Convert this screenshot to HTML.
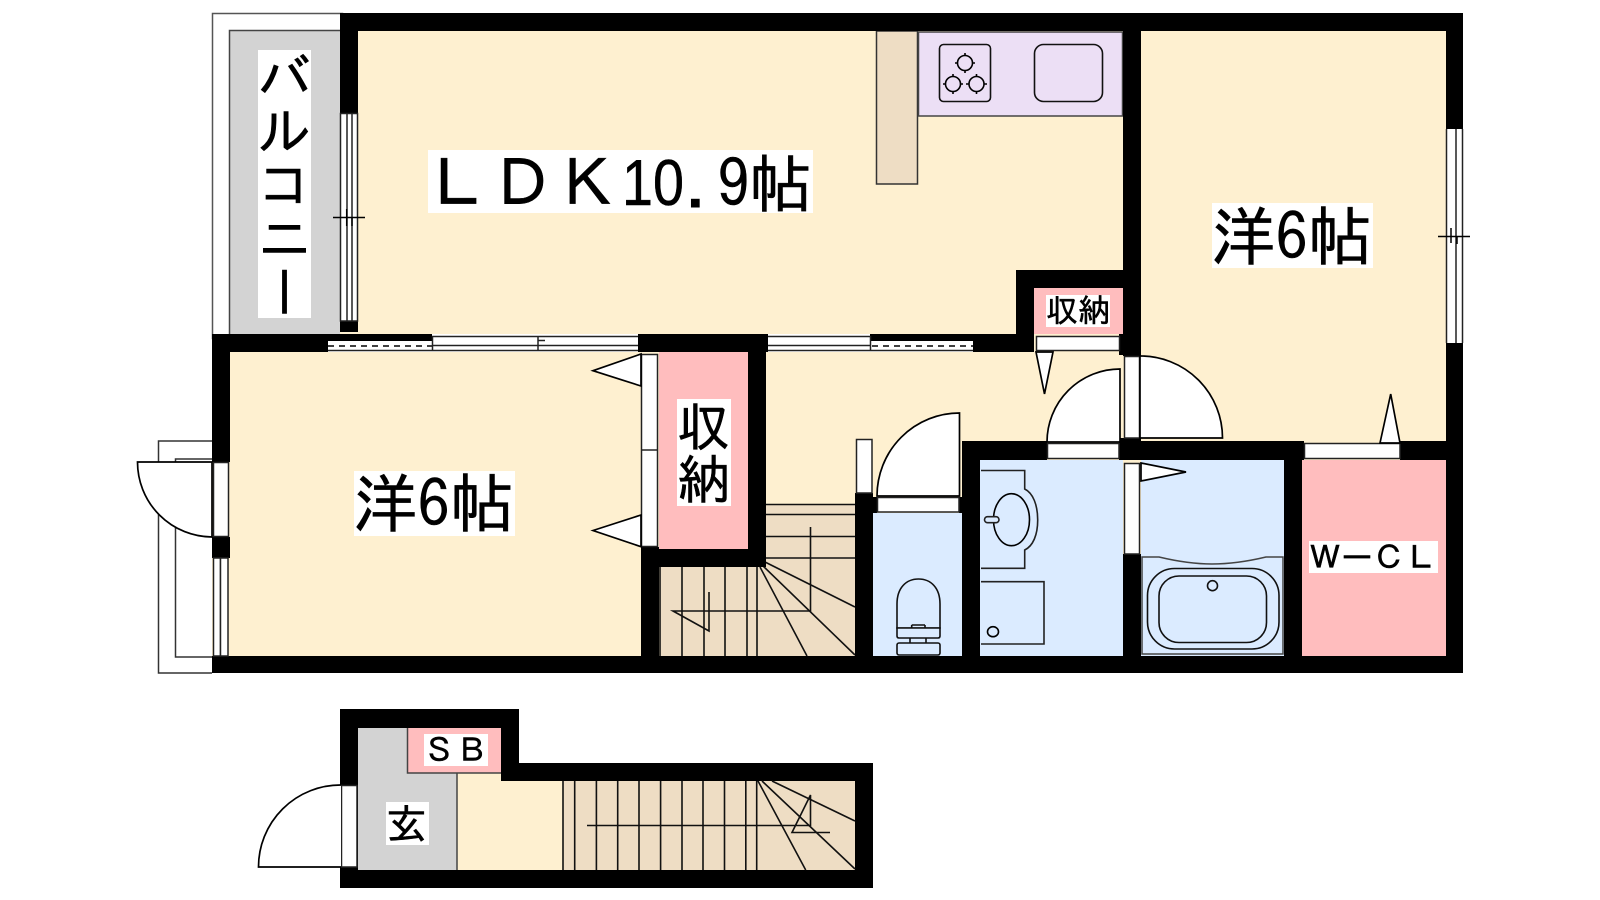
<!DOCTYPE html>
<html lang="ja"><head><meta charset="utf-8"><title>間取り図</title>
<style>html,body{margin:0;padding:0;background:#fff;width:1600px;height:900px;overflow:hidden}svg{display:block}text{font-family:"IPAGothic","Noto Sans CJK JP",sans-serif;fill:#000;stroke:#000;stroke-width:.5}</style></head>
<body>
<svg width="1600" height="900" viewBox="0 0 1600 900" xmlns="http://www.w3.org/2000/svg">
<!-- balcony -->
<rect x="212.5" y="13.5" width="130" height="325" fill="#fff" stroke="#555" stroke-width="1.5"/>
<rect x="229.5" y="30.5" width="112" height="306" fill="#d3d3d3" stroke="#444" stroke-width="1.5"/>
<!-- entry porch -->
<path d="M212 441H158.5V673H212" fill="#fff" stroke="#333" stroke-width="1.5"/>
<path d="M212 459H175.5V657H212" fill="#fff" stroke="#333" stroke-width="1.5"/>
<!-- room fills -->
<rect x="340" y="13" width="1123" height="660" fill="#fef0d0"/>
<rect x="212" y="334" width="450" height="339" fill="#fef0d0"/>
<!-- kitchen -->
<rect x="876.5" y="31" width="41" height="153" fill="#eeddc4" stroke="#333" stroke-width="1.5"/>
<rect x="918.5" y="32" width="204" height="84" fill="#ecdff5" stroke="#444" stroke-width="1.5"/>
<rect x="939.5" y="44.5" width="51" height="57" rx="4" fill="none" stroke="#111" stroke-width="1.6"/>
<rect x="1034.5" y="44.5" width="68" height="57" rx="9" fill="none" stroke="#111" stroke-width="1.6"/>
<g fill="none" stroke="#000" stroke-width="1.6">
<circle cx="965" cy="63" r="7.5"/><circle cx="953" cy="84" r="7.5"/><circle cx="976.5" cy="84" r="7.5"/>
<path d="M965 53v3M965 70v3M955 63h3M972 63h3M953 74v3M953 91v3M943 84h3M960 84h3M976.5 74v3M976.5 91v3M966 84h3M984 84h3"/>
</g>
<!-- stairs upper -->
<path d="M660 567H766V504H855V656H660Z" fill="#eeddc4"/>
<g fill="none" stroke="#111" stroke-width="1.6">
<path d="M766 504.500H855M766 514.500H855M766 536.500H855M766 558H855"/>
<path d="M660 567V656M682 567V656M704 567V656M725 567V656M747 567V656M757 567V656"/>
<path d="M765 562L855 607M762 565L855 655M760 567L807 656"/>
<path d="M810.500 527V611H673L709 631V592"/>
</g>
<!-- closets and wet areas -->
<rect x="659" y="352" width="89" height="197" fill="#ffbdbe"/>
<rect x="1034" y="288" width="89" height="46" fill="#ffbdbe"/>
<rect x="873" y="513" width="89" height="143" fill="#dbebff"/>
<rect x="980" y="460" width="143" height="196" fill="#dbebff"/>
<rect x="1141" y="460" width="143" height="196" fill="#dbebff"/>
<rect x="1302" y="460" width="144" height="196" fill="#ffbdbe"/>
<!-- walls -->
<g fill="#000">
<rect x="340" y="13" width="1123" height="18"/>
<rect x="340" y="13" width="18" height="100"/>
<rect x="340" y="321" width="18" height="11"/>
<rect x="1446" y="13" width="17" height="116"/>
<rect x="1446" y="343" width="17" height="330"/>
<rect x="1123" y="13" width="18" height="343"/>
<rect x="212" y="334" width="116" height="18"/>
<rect x="212" y="334" width="18" height="128"/>
<rect x="212" y="537" width="18" height="21"/>
<rect x="212" y="656" width="1251" height="17"/>
<rect x="638" y="334" width="130" height="18"/>
<rect x="748" y="334" width="18" height="233"/>
<rect x="641" y="549" width="125" height="18"/>
<rect x="641" y="547" width="18" height="109"/>
<rect x="973" y="334" width="61" height="18"/>
<rect x="1016" y="270" width="107" height="18"/>
<rect x="1016" y="270" width="18" height="82"/>
<rect x="1119" y="334" width="22" height="21"/>
<rect x="855" y="493" width="18" height="163"/>
<rect x="873" y="497" width="4" height="16"/>
<rect x="959" y="497" width="3" height="16"/>
<rect x="962" y="441" width="18" height="215"/>
<rect x="962" y="441" width="85" height="19"/>
<rect x="1119" y="438" width="22" height="22"/>
<rect x="1119" y="441" width="185" height="19"/>
<rect x="1400" y="441" width="63" height="19"/>
<rect x="1284" y="441" width="18" height="215"/>
<rect x="1123" y="554" width="18" height="102"/>
</g>
<!-- LDK / balcony window -->
<g stroke="#222" stroke-width="1.5" fill="none">
<rect x="340.500" y="113.500" width="17" height="207.500" fill="#fff"/>
<path d="M347 113V321M352 113V321"/>
<path d="M333 217.500H365M346.700 209V226M352 217V226" stroke="#000"/>
</g>
<!-- right window -->
<g stroke="#222" stroke-width="1.5" fill="none">
<rect x="1446.500" y="129" width="17" height="214" fill="#fff" stroke="none"/>
<path d="M1446.500 129V343M1456 129V343M1462.500 129V343"/>
<path d="M1438 236.500H1470M1451 228V243M1457 236V244" stroke="#000"/>
</g>
<!-- mid-wall sliding windows -->
<g stroke="#222" stroke-width="1.5">
<rect x="328" y="334" width="104" height="18" fill="#000" stroke="none"/>
<rect x="328" y="341" width="104" height="10" fill="#fff" stroke="none"/>
<path d="M328 346H432" stroke="#000" stroke-width="1.500" stroke-dasharray="6 5"/>
<rect x="328" y="351" width="104" height="1" fill="#fff" stroke="none"/>
<rect x="432" y="334" width="206" height="18" fill="#fff" stroke="none"/>
<path d="M328 350.500H432" stroke="#222"/>
<path d="M432 336.500H638M432 345.500H638M432 350.500H638M432.500 336V351M538 336V351M538 340.500H545"/>
<rect x="768" y="334" width="205" height="18" fill="#fff" stroke="none"/>
<rect x="870" y="334" width="103" height="7" fill="#000" stroke="none"/>
<path d="M768 336.500H870M768 345.500H870M768 350.500H973M870.500 336V351"/>
<path d="M872 346H973" stroke="#000" stroke-width="1.500" stroke-dasharray="6 5"/>
</g>
<!-- doors -->
<g fill="#fff" stroke="#222" stroke-width="1.5">
<rect x="1036.500" y="336.500" width="83" height="14"/>
<rect x="213.500" y="462.500" width="15" height="74"/>
<rect x="213.500" y="558" width="7" height="98"/>
<rect x="220.500" y="558" width="7.500" height="98"/>
<rect x="641.500" y="354.500" width="16" height="192"/>
<path d="M641.500 450H657.500"/>
<rect x="856.500" y="439.500" width="15.500" height="53.500"/>
<rect x="877.500" y="497.500" width="81.500" height="14.500"/>
<rect x="1047.500" y="443.500" width="71.500" height="15"/>
<rect x="1124.500" y="356.500" width="15" height="81.500"/>
<rect x="1124.500" y="463.500" width="15" height="90.500"/>
<rect x="1304.500" y="443.500" width="95.500" height="15"/>
</g>
<g fill="#fff" stroke="#000" stroke-width="1.7" stroke-linejoin="miter">
<path d="M593 370.700L641 354V386Z"/>
<path d="M593 530.500L641 515V546.700Z"/>
<path d="M1036 352H1053L1044.500 394Z"/>
<path d="M1380 443H1400L1390.700 394Z"/>
<path d="M1141 463L1186 472L1141 481Z"/>
<path d="M212 462H137.500A75 75 0 0 0 212 537Z"/>
<path d="M959.500 413A82.500 83 0 0 0 877 496H959.500Z"/>
<path d="M1120 369A73 73 0 0 0 1047 442H1120Z"/>
<path d="M1140 356A82 82 0 0 1 1222.500 438H1140Z"/>
</g>
<!-- toilet -->
<g fill="#dbebff" stroke="#111" stroke-width="1.6">
<path d="M897 628V604C897 588 906 579 918.500 579C931 579 940 588 940 604V628Z"/>
<path d="M911.700 625H925M911.700 625V629M925 625V629"/>
<path d="M897 628H940V636Q940 638 938 638H899Q897 638 897 636Z"/>
<path d="M910 638V643M926 638V643" />
<rect x="897" y="643" width="43" height="12" rx="2"/>
</g>
<!-- washbasin, washer -->
<g fill="#dbebff" stroke="#222" stroke-width="1.6">
<path d="M981 470.500H1024.700V489C1033 493 1037.700 505 1037.700 520C1037.700 535 1033 546 1024.700 550V568.300H981"/>
<ellipse cx="1011.500" cy="519.700" rx="18" ry="26" stroke="#000"/>
<rect x="984.500" y="516.700" width="14.500" height="6" rx="3"/>
<path d="M981 581.700H1044V644H981"/>
<ellipse cx="993" cy="631.700" rx="5.500" ry="5" stroke="#000"/>
</g>
<!-- bathtub -->
<path d="M1142 557H1159C1180 562 1195 564 1212 564C1229 564 1245 562 1266 557H1283V654H1142Z" fill="none" stroke="#444" stroke-width="1.5"/>
<g fill="none" stroke="#111" stroke-width="1.6">
<rect x="1147.500" y="568.500" width="131.500" height="80.500" rx="27"/>
<rect x="1159" y="576" width="107.500" height="66.500" rx="20"/>
<circle cx="1212.500" cy="585.700" r="5"/>
</g>
<!-- lower unit -->
<path d="M340 709H519V763H873V888H340Z" fill="#000"/>
<rect x="358" y="728" width="99" height="142" fill="#d3d3d3"/>
<rect x="457" y="773" width="44" height="97" fill="#fef0d0"/>
<rect x="501" y="781" width="62" height="89" fill="#fef0d0"/>
<rect x="407.500" y="728" width="93.500" height="45" fill="#ffbdbe"/>
<rect x="563" y="781" width="292" height="89" fill="#eeddc4"/>
<path d="M407.500 728V773H501M457 773V870" fill="none" stroke="#444" stroke-width="1.5"/>
<g fill="none" stroke="#111" stroke-width="1.6">
<path d="M563 781V870M574.700 781V870M596.400 781V870M617.700 781V870M639 781V870M660.600 781V870M682 781V870M703 781V870M724.500 781V870M745.800 781V870M756.700 781V870"/>
<path d="M758 781L805.700 870M762 781L855 869M772 781L855 821"/>
<path d="M587 825.500H810.500V795L792 832.500H830"/>
</g>
<rect x="341.500" y="785.500" width="15.500" height="81.500" fill="#fff" stroke="#222" stroke-width="1.5"/>
<path d="M341 785A82 82 0 0 0 258.500 867H341" fill="#fff" stroke="#000" stroke-width="1.7"/>
<!-- labels -->
<g fill="#fff">
<rect x="258" y="50" width="53" height="268"/>
<rect x="428" y="150" width="385" height="63"/>
<rect x="1212" y="203" width="161" height="65"/>
<rect x="354" y="471" width="161" height="65"/>
<rect x="677" y="399" width="54" height="107"/>
<rect x="1046" y="295" width="64" height="32"/>
<rect x="1309" y="541" width="129" height="32"/>
<rect x="424" y="734" width="64" height="32"/>
<rect x="386" y="802" width="43" height="43"/>
</g>
<text x="284.500" y="50" font-size="53.500" style="writing-mode:vertical-rl">バルコニー</text>
<text x="425" y="207" font-size="65">ＬＤＫ</text>
<text x="622" y="205" font-size="65" textLength="62" lengthAdjust="spacingAndGlyphs" style="font-family:'Liberation Sans',sans-serif">10</text>
<text x="685" y="207" font-size="65" style="stroke-width:0">.</text>
<text x="717" y="207" font-size="65">9</text>
<text x="749" y="207" font-size="63">帖</text>
<text x="1211" y="260" font-size="64.500">洋6帖</text>
<text x="353" y="527" font-size="64.500">洋6帖</text>
<text x="677" y="446" font-size="53">収</text>
<text x="677" y="499" font-size="53">納</text>
<text x="1046" y="322" font-size="32">収納</text>
<text x="1309" y="569" font-size="32">ＷーＣＬ</text>
<text x="423" y="762" font-size="32.500">ＳＢ</text>
<text x="386" y="839" font-size="41">玄</text>
</svg>
</body></html>
